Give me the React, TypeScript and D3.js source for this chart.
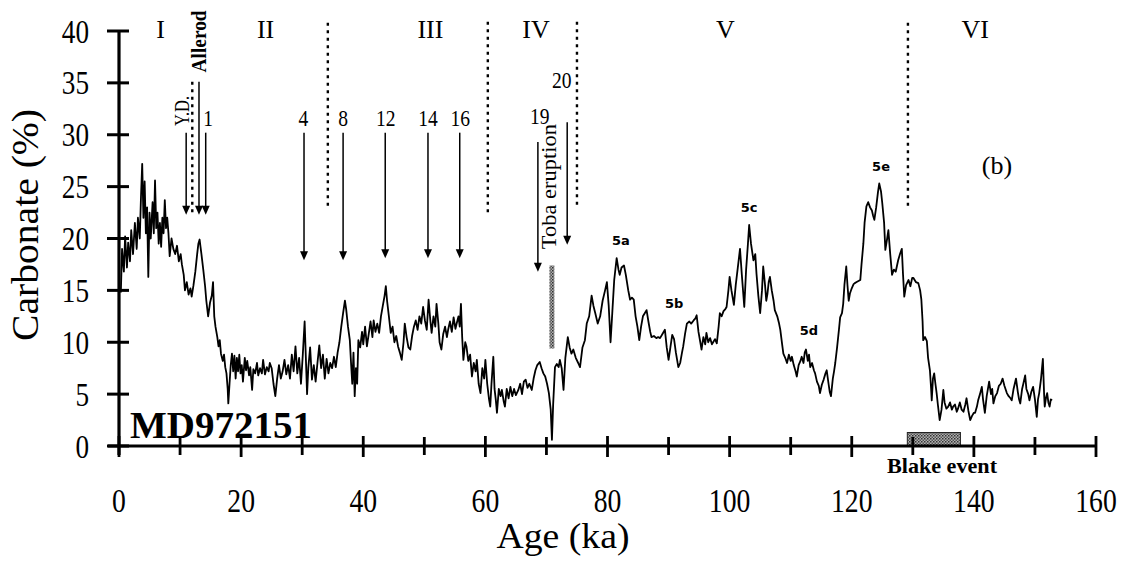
import React from 'react';
import * as d3 from 'd3';

// carbonate record MD972151, [age ka, carbonate %]
const carbonate: [number, number][] = [
  [0.3,14.8],[0.5,19.0],[0.8,16.8],[1.0,20.2],[1.3,17.2],[1.5,19.6],[1.8,17.8],[2.0,20.8],[2.3,18.5],[2.6,21.5],
  [2.9,19.0],[3.1,22.0],[3.4,20.0],[3.6,24.0],[3.8,27.2],[4.0,22.0],[4.2,25.5],[4.4,20.5],[4.6,23.0],[4.8,16.3],
  [5.0,22.5],[5.2,20.0],[5.5,23.5],[5.7,20.5],[5.9,25.6],[6.1,21.0],[6.3,22.5],[6.5,19.5],[6.7,21.5],[6.9,19.2],
  [7.1,22.0],[7.3,20.5],[7.5,23.7],[7.7,21.0],[7.9,22.0],[8.1,20.5],[8.3,18.3],[8.6,20.0],[8.9,19.0],[9.2,18.5],
  [9.5,19.3],[9.8,17.8],[10.1,18.5],[10.3,17.5],[10.6,16.5],[10.8,15.0],[11.1,15.8],[11.4,14.6],[11.7,15.2],[11.9,14.4],
  [12.2,15.5],[12.5,16.8],[12.8,18.5],[13.0,19.5],[13.2,19.9],[13.5,18.5],[13.8,17.0],[14.1,15.4],[14.3,14.0],[14.6,12.5],
  [14.9,13.8],[15.2,14.5],[15.4,15.8],[15.6,12.5],[15.8,11.5],[16.1,10.5],[16.3,9.6],[16.5,10.2],[16.7,8.9],[17.0,8.2],
  [17.2,8.8],[17.4,7.6],[17.6,7.0],[17.8,5.5],[17.9,4.1],[18.1,6.0],[18.3,7.8],[18.5,8.9],[18.7,7.2],[18.9,8.7],
  [19.1,6.5],[19.3,8.5],[19.5,7.2],[19.7,8.8],[19.9,7.0],[20.1,7.8],[20.3,6.2],[20.6,8.5],[20.8,7.3],[21.0,8.2],
  [21.3,6.8],[21.5,7.6],[21.8,5.4],[22.0,7.4],[22.3,7.0],[22.6,8.0],[22.8,6.8],[23.1,7.5],[23.4,7.0],[23.6,8.3],
  [23.9,6.9],[24.2,7.6],[24.5,7.2],[24.7,8.0],[25.0,7.5],[25.3,6.0],[25.6,4.8],[25.9,6.5],[26.2,7.8],[26.5,6.5],
  [26.8,7.2],[27.1,8.3],[27.4,6.9],[27.7,7.8],[28.0,6.5],[28.3,8.8],[28.6,7.2],[28.9,9.6],[29.2,7.0],[29.5,8.5],
  [29.8,6.0],[30.1,8.8],[30.4,12.0],[30.6,8.5],[30.8,5.0],[31.0,7.5],[31.3,9.5],[31.6,6.4],[31.9,7.8],[32.2,6.2],
  [32.5,8.0],[32.8,9.7],[33.1,7.5],[33.4,8.8],[33.7,6.5],[34.0,8.4],[34.3,7.0],[34.6,8.0],[34.9,7.5],[35.2,8.6],
  [35.5,7.6],[35.8,9.0],[36.1,10.0],[36.4,11.5],[36.7,12.8],[37.0,14.0],[37.2,13.2],[37.5,11.5],[37.8,10.2],[38.0,8.0],
  [38.2,6.0],[38.4,9.0],[38.6,4.8],[38.8,7.5],[39.0,6.0],[39.2,10.2],[39.5,9.5],[39.8,11.0],[40.0,9.8],[40.3,11.5],
  [40.6,9.6],[40.9,10.8],[41.2,12.0],[41.5,10.5],[41.7,12.1],[42.0,11.0],[42.3,11.8],[42.6,10.9],[42.9,12.5],[43.2,13.5],
  [43.5,14.5],[43.7,15.4],[43.9,14.0],[44.2,12.5],[44.5,10.9],[44.8,11.5],[45.1,10.0],[45.4,10.6],[45.7,9.6],[46.0,9.0],
  [46.3,8.3],[46.6,10.0],[46.8,11.8],[47.1,10.5],[47.4,9.5],[47.7,9.3],[48.0,10.6],[48.3,11.5],[48.6,12.1],[48.9,11.2],
  [49.2,12.5],[49.5,11.8],[49.8,13.4],[50.1,12.1],[50.4,11.2],[50.7,14.1],[51.0,12.0],[51.2,10.9],[51.5,12.5],[51.8,11.5],
  [52.0,13.7],[52.3,11.8],[52.5,10.0],[52.8,9.3],[53.1,10.8],[53.4,11.5],[53.7,10.5],[53.9,11.2],[54.2,12.0],[54.5,11.0],
  [54.8,12.4],[55.1,11.3],[55.3,11.8],[55.6,12.5],[55.8,11.5],[56.0,13.7],[56.2,10.5],[56.4,8.3],[56.7,10.0],[56.9,9.6],
  [57.2,8.2],[57.5,8.8],[57.8,6.7],[58.1,8.0],[58.4,7.2],[58.6,8.3],[58.9,6.0],[59.2,5.1],[59.5,7.5],[59.8,6.5],
  [60.0,8.3],[60.3,6.0],[60.6,4.5],[60.8,3.8],[61.0,6.0],[61.3,8.6],[61.5,5.5],[61.7,4.5],[61.9,3.2],[62.2,5.5],
  [62.5,4.8],[62.7,5.4],[63.0,4.3],[63.2,3.8],[63.5,5.5],[63.8,4.6],[64.1,5.7],[64.4,4.8],[64.7,5.5],[65.0,4.9],
  [65.4,5.4],[65.7,6.0],[66.0,5.0],[66.3,6.2],[66.6,6.4],[66.9,5.6],[67.2,6.0],[67.6,5.4],[67.9,6.5],[68.2,7.3],
  [68.5,7.8],[68.9,8.1],[69.2,7.5],[69.5,7.0],[69.8,6.7],[70.1,6.0],[70.4,5.1],[70.7,3.5],[70.9,0.6],[71.1,4.0],
  [71.4,7.6],[71.7,7.9],[72.0,7.6],[72.2,8.3],[72.5,7.5],[72.8,5.4],[73.1,8.5],[73.5,10.5],[73.8,9.5],[74.1,8.9],
  [74.4,9.3],[74.8,8.5],[75.2,8.0],[75.5,7.6],[75.9,9.5],[76.3,10.2],[76.6,11.8],[77.0,12.5],[77.4,14.5],[77.7,13.5],
  [78.0,12.8],[78.4,11.8],[78.8,12.5],[79.2,14.0],[79.6,15.0],[79.9,15.8],[80.2,13.5],[80.5,10.0],[80.8,13.0],[81.1,16.0],
  [81.5,18.1],[81.8,17.0],[82.0,16.5],[82.3,17.2],[82.7,17.4],[83.0,16.5],[83.4,15.0],[83.7,14.1],[84.0,14.3],[84.3,14.1],
  [84.6,12.5],[84.9,11.5],[85.2,10.2],[85.5,11.5],[85.8,12.5],[86.1,12.8],[86.4,13.1],[86.7,12.0],[87.0,11.0],[87.2,10.5],
  [87.6,10.6],[88.0,10.4],[88.3,10.5],[88.6,10.4],[89.0,10.8],[89.4,11.2],[89.7,9.5],[90.0,8.3],[90.3,9.5],[90.6,10.7],
  [90.9,10.3],[91.2,9.0],[91.6,7.6],[91.9,8.0],[92.2,9.0],[92.4,9.6],[92.7,10.8],[93.0,11.8],[93.4,12.0],[93.7,11.8],
  [94.1,12.1],[94.4,12.3],[94.6,12.6],[94.9,11.0],[95.2,10.0],[95.4,9.3],[95.7,10.5],[96.0,9.8],[96.2,10.9],[96.5,10.0],
  [96.8,10.4],[97.1,9.8],[97.3,10.0],[97.6,10.3],[97.9,9.9],[98.2,11.5],[98.4,12.8],[98.7,12.5],[99.0,13.0],[99.3,13.2],
  [99.5,13.4],[99.8,15.0],[100.0,16.3],[100.3,15.0],[100.7,13.6],[101.0,15.5],[101.3,17.0],[101.7,19.0],[102.0,16.5],[102.4,13.4],
  [102.7,17.0],[103.0,19.5],[103.2,21.3],[103.5,19.5],[103.9,17.9],[104.2,18.5],[104.4,16.6],[104.7,14.5],[105.0,12.8],[105.3,15.0],
  [105.5,17.3],[105.8,15.5],[106.0,14.0],[106.2,14.7],[106.4,15.8],[106.6,16.3],[106.9,15.0],[107.2,14.0],[107.4,13.1],[107.8,12.5],
  [108.1,11.8],[108.3,11.2],[108.6,9.8],[108.8,8.9],[109.1,8.5],[109.4,8.0],[109.7,8.8],[110.0,8.2],[110.2,8.6],[110.5,7.8],
  [110.8,7.2],[111.0,6.7],[111.3,7.8],[111.6,8.2],[111.8,8.6],[112.1,8.0],[112.3,9.0],[112.5,9.3],[112.8,8.2],[113.0,8.8],
  [113.2,7.6],[113.5,8.0],[113.8,7.3],[114.0,7.0],[114.3,6.2],[114.6,5.8],[114.8,5.1],[115.1,5.9],[115.4,6.4],[115.7,7.0],
  [115.9,7.3],[116.2,6.0],[116.4,5.2],[116.6,4.8],[116.9,6.5],[117.1,7.2],[117.3,8.0],[117.6,9.5],[117.9,11.2],[118.1,12.4],
  [118.4,12.8],[118.6,13.7],[118.8,15.5],[119.1,17.3],[119.3,15.5],[119.5,14.0],[119.7,14.7],[120.0,15.2],[120.3,15.6],[120.5,15.7],
  [120.8,15.8],[121.1,15.9],[121.4,16.0],[121.6,17.5],[121.9,19.5],[122.1,21.5],[122.4,23.1],[122.7,23.5],[123.0,23.0],[123.3,22.7],
  [123.5,22.2],[123.7,21.8],[124.0,23.0],[124.3,24.5],[124.5,25.3],[124.8,24.5],[125.0,23.4],[125.3,21.5],[125.5,18.9],[125.8,20.0],
  [126.0,20.8],[126.3,18.5],[126.6,16.5],[126.9,17.0],[127.2,16.8],[127.6,17.9],[127.9,18.5],[128.2,19.0],[128.4,16.5],[128.6,14.4],
  [128.9,15.5],[129.3,16.0],[129.6,15.4],[129.9,16.2],[130.1,16.2],[130.5,15.8],[130.9,15.7],[131.2,15.0],[131.4,14.1],[131.6,12.0],
  [131.7,10.2],[132.0,10.5],[132.3,10.1],[132.5,8.5],[132.8,7.3],[133.0,5.5],[133.1,4.4],[133.3,6.5],[133.5,7.0],[133.7,6.0],
  [133.9,5.1],[134.1,4.0],[134.4,2.5],[134.7,3.5],[135.0,5.4],[135.2,4.2],[135.5,3.6],[135.8,3.8],[136.1,4.2],[136.4,3.5],
  [136.6,3.8],[136.9,4.0],[137.2,3.3],[137.4,3.6],[137.7,4.2],[138.0,3.5],[138.3,3.3],[138.6,4.0],[138.8,4.6],[139.1,3.4],
  [139.4,2.5],[139.7,2.9],[140.0,3.2],[140.2,3.2],[140.5,3.8],[140.7,4.4],[141.0,5.0],[141.3,5.7],[141.5,4.5],[141.8,3.2],
  [142.1,4.8],[142.3,5.5],[142.5,6.2],[142.8,5.0],[143.0,5.5],[143.2,4.1],[143.5,4.8],[143.8,5.1],[144.1,5.8],[144.4,6.0],
  [144.7,6.5],[145.0,5.8],[145.4,5.1],[145.7,4.8],[146.0,4.6],[146.2,4.4],[146.5,5.5],[146.7,6.0],[146.9,6.5],[147.2,5.2],
  [147.4,4.5],[147.6,4.1],[147.9,5.5],[148.1,6.0],[148.4,6.8],[148.6,5.5],[148.9,5.0],[149.1,4.4],[149.4,5.2],[149.7,5.7],
  [150.0,4.5],[150.3,2.8],[150.5,4.5],[150.7,5.1],[151.0,6.5],[151.3,8.4],[151.5,5.0],[151.6,3.8],[151.8,4.6],[152.0,5.1],
  [152.2,4.2],[152.4,3.8],[152.6,4.5],[152.8,4.4],
];

const yTicks = [0, 5, 10, 15, 20, 25, 30, 35, 40];
const xTicks = [0, 20, 40, 60, 80, 100, 120, 140, 160];
const xMinorTicks = [10, 30, 50, 70, 90, 110, 130, 150];

// stage boundaries (dotted) [age, top %, bottom %]
const boundaries: [number, number, number][] = [
  [12.0, 35.1, 22.3],
  [34.2, 40.8, 22.9],
  [60.4, 40.9, 22.1],
  [75.0, 40.9, 23.0],
  [129.2, 40.8, 22.9],
];
const stages = [
  { label: 'I', age: 6.8 },
  { label: 'II', age: 24.0 },
  { label: 'III', age: 51.0 },
  { label: 'IV', age: 68.3 },
  { label: 'V', age: 99.3 },
  { label: 'VI', age: 140.2 },
];

// event arrows [age, top %, tip %]
const arrows: [number, number, number][] = [
  [11.0, 30.2, 22.3],
  [13.1, 35.1, 22.3],
  [14.2, 30.2, 22.3],
  [30.3, 30.2, 17.9],
  [36.7, 30.2, 17.9],
  [43.6, 30.2, 18.1],
  [50.6, 30.2, 18.1],
  [55.8, 30.2, 18.1],
  [68.6, 29.3, 16.8],
  [73.4, 31.2, 19.4],
];
// interstadial numbers [label, age, baseline %]
const eventLabels: [string, number, number][] = [
  ['1', 14.6, 30.8],
  ['4', 30.2, 30.8],
  ['8', 36.7, 30.8],
  ['12', 43.7, 30.8],
  ['14', 50.6, 30.8],
  ['16', 55.9, 30.8],
  ['19', 68.9, 31.0],
  ['20', 72.5, 34.5],
];
const subStages: [string, number, number][] = [
  ['5a', 82.2, 19.4],
  ['5b', 90.9, 13.3],
  ['5c', 103.2, 22.6],
  ['5d', 113.0, 10.7],
  ['5e', 124.8, 26.5],
];
const tobaBar = { age0: 70.5, age1: 71.3, top: 17.4, bottom: 9.4 };
const blakeBar = { age0: 129.1, age1: 137.8, top: 1.3 };

const W = 1126;
const H = 561;
const serif = '"Liberation Serif", "Times New Roman", serif';

export default function App() {
  const x = d3.scaleLinear().domain([0, 160]).range([119, 1096]);
  const y = d3.scaleLinear().domain([0, 40]).range([446, 31]);

  const line = d3
    .line<[number, number]>()
    .x((d) => x(d[0]))
    .y((d) => y(d[1]));

  const arrowHead = (ax: number, tip: number) => {
    const px = x(ax);
    const py = y(tip);
    return `M${px - 4},${py - 9}L${px + 4},${py - 9}L${px},${py}Z`;
  };

  return (
    <svg
      width={W}
      height={H}
      style={{ position: 'absolute', left: 0, top: 0, background: '#fff', fontFamily: serif }}
    >
      <defs>
        <pattern id="stip" width="3" height="3" patternUnits="userSpaceOnUse">
          <rect width="3" height="3" fill="#b0b0b0" />
          <rect width="1.5" height="1.5" fill="#333" />
          <rect x="1.5" y="1.5" width="1.5" height="1.5" fill="#555" />
        </pattern>
      </defs>

      {/* data line */}
      <path d={line(carbonate) ?? ''} fill="none" stroke="#000" strokeWidth={1.8} strokeLinejoin="round" />

      {/* Toba ash bar */}
      <rect
        x={x(tobaBar.age0)}
        y={y(tobaBar.top)}
        width={x(tobaBar.age1) - x(tobaBar.age0)}
        height={y(tobaBar.bottom) - y(tobaBar.top)}
        fill="url(#stip)"
      />

      {/* Blake event bar */}
      <rect
        x={x(blakeBar.age0)}
        y={y(blakeBar.top)}
        width={x(blakeBar.age1) - x(blakeBar.age0)}
        height={y(0) - y(blakeBar.top)}
        fill="url(#stip)"
        stroke="#222"
        strokeWidth={1}
      />

      {/* axes */}
      <line x1={x(0)} x2={x(0)} y1={y(40)} y2={y(0) + 9} stroke="#000" strokeWidth={3.2} />
      <line x1={x(0) - 11} x2={x(160)} y1={y(0)} y2={y(0)} stroke="#000" strokeWidth={3} />
      {yTicks.map((t) => (
        <g key={'y' + t}>
          <line x1={x(0) - 12} x2={x(0) + 10} y1={y(t)} y2={y(t)} stroke="#000" strokeWidth={3} />
          <text
            transform={`translate(${x(0) - 30},${y(t)}) scale(0.8,1)`}
            dy="0.34em"
            textAnchor="end"
            fontSize={34}
          >
            {t}
          </text>
        </g>
      ))}
      {xTicks.map((t) => (
        <g key={'x' + t}>
          <line x1={x(t)} x2={x(t)} y1={y(0) - 10} y2={y(0) + 11} stroke="#000" strokeWidth={2.8} />
          <text transform={`translate(${x(t)},512) scale(0.84,1)`} textAnchor="middle" fontSize={33}>
            {t}
          </text>
        </g>
      ))}
      {xMinorTicks.map((t) => (
        <line key={'m' + t} x1={x(t)} x2={x(t)} y1={y(0) - 9} y2={y(0) + 9} stroke="#000" strokeWidth={2.8} />
      ))}

      {/* axis titles */}
      <text x={563} y={548} textAnchor="middle" fontSize={36} textLength={133} lengthAdjust="spacingAndGlyphs">
        Age (ka)
      </text>
      <text
        transform={`translate(38,${225}) rotate(-90)`}
        textAnchor="middle"
        fontSize={38}
        textLength={232}
        lengthAdjust="spacingAndGlyphs"
      >
        Carbonate (%)
      </text>

      {/* stage boundaries */}
      {boundaries.map(([a, t, b]) => (
        <line
          key={'b' + a}
          x1={x(a)}
          x2={x(a)}
          y1={y(t)}
          y2={y(b)}
          stroke="#000"
          strokeWidth={2.4}
          strokeDasharray="3 4.5"
        />
      ))}
      {stages.map((s) => (
        <text key={s.label} x={x(s.age)} y={38} textAnchor="middle" fontSize={26}>
          {s.label}
        </text>
      ))}

      {/* event arrows */}
      {arrows.map(([a, t, b]) => (
        <g key={'a' + a}>
          <line x1={x(a)} x2={x(a)} y1={y(t)} y2={y(b) - 6} stroke="#000" strokeWidth={1.5} />
          <path d={arrowHead(a, b)} fill="#000" />
        </g>
      ))}
      {eventLabels.map(([l, a, v]) => (
        <text
          key={'e' + l}
          transform={`translate(${x(a)},${y(v)}) scale(0.85,1)`}
          textAnchor="middle"
          fontSize={23}
        >
          {l}
        </text>
      ))}
      <text
        transform={`translate(${x(11.5)},${y(32.3)}) rotate(-90)`}
        textAnchor="middle"
        fontSize={20}
        textLength={30}
        lengthAdjust="spacingAndGlyphs"
      >
        Y.D.
      </text>
      <text
        transform={`translate(${x(14.2)},${y(39.0)}) rotate(-90)`}
        textAnchor="middle"
        fontSize={20}
        fontWeight="bold"
        textLength={62}
        lengthAdjust="spacingAndGlyphs"
      >
        Allerod
      </text>
      <text
        transform={`translate(${x(71.6)},${y(25.0)}) rotate(-90)`}
        textAnchor="middle"
        fontSize={22}
        textLength={125}
        lengthAdjust="spacingAndGlyphs"
      >
        Toba eruption
      </text>

      {/* sub-stage labels */}
      {subStages.map(([l, a, v]) => (
        <text
          key={l}
          x={x(a)}
          y={y(v)}
          textAnchor="middle"
          fontSize={13}
          fontWeight="bold"
          fontFamily='"DejaVu Sans", sans-serif'
        >
          {l}
        </text>
      ))}

      <text x={997} y={174} textAnchor="middle" fontSize={26}>
        (b)
      </text>
      <text x={130} y={438} fontSize={38} fontWeight="bold" textLength={182} lengthAdjust="spacingAndGlyphs">
        MD972151
      </text>
      <text
        x={942}
        y={473}
        textAnchor="middle"
        fontSize={21}
        fontWeight="bold"
        textLength={110}
        lengthAdjust="spacingAndGlyphs"
      >
        Blake event
      </text>
    </svg>
  );
}
